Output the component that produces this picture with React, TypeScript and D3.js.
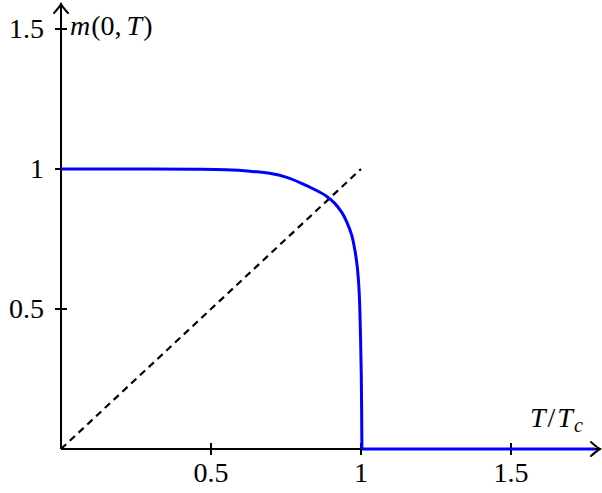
import React from "react";
import * as d3 from "d3";

// Blue curve m(0,T)
const tValues = [0, 0.3, 0.45, 0.55, 0.63, 0.7, 0.75, 0.802, 0.847, 0.886, 0.911, 0.936, 0.952, 0.969, 0.98, 0.988, 0.994, 0.998, 1.001, 1.003];
const mValues = [1, 1, 0.999, 0.997, 0.992, 0.984, 0.971, 0.949, 0.926, 0.902, 0.879, 0.845, 0.812, 0.764, 0.708, 0.646, 0.558, 0.42, 0.26, 0];
// Zero part above Tc
const tailT = [1.003, 1.78];
const tailM = [0, 0];
// Dashed diagonal m = T
const diagT = [0, 1];
const diagM = [0, 1];

const xTicks = [0.5, 1, 1.5];
const xTickLabels = ["0.5", "1", "1.5"];
const yTicks = [0.5, 1, 1.5];
const yTickLabels = ["0.5", "1", "1.5"];

const W = 602;
const H = 493;

export default function App() {
  const x = d3.scaleLinear().domain([0, 1]).range([61, 361]);
  const y = d3.scaleLinear().domain([0, 1]).range([449, 169]);

  const line = d3
    .line<[number, number]>()
    .x((d) => x(d[0]))
    .y((d) => y(d[1]))
    .curve(d3.curveCatmullRom.alpha(0.5));
  const straight = d3
    .line<[number, number]>()
    .x((d) => x(d[0]))
    .y((d) => y(d[1]));

  const curvePts = tValues.map((t, i) => [t, mValues[i]] as [number, number]);
  const tailPts = tailT.map((t, i) => [t, tailM[i]] as [number, number]);
  const diagPts = diagT.map((t, i) => [t, diagM[i]] as [number, number]);

  const x0 = x(0);
  const y0 = y(0);
  const xEnd = x(1.8);
  const yEnd = y(1.593);

  const font = "Liberation Serif";
  const fs = 28;

  const arrowRight = (tx: number, ty: number) =>
    `M${tx - 9},${ty - 7} Q${tx - 3},${ty - 1.5} ${tx},${ty} Q${tx - 3},${ty + 1.5} ${tx - 9},${ty + 7}`;
  const arrowUp = (tx: number, ty: number) =>
    `M${tx - 7},${ty + 9} Q${tx - 1.5},${ty + 3} ${tx},${ty} Q${tx + 1.5},${ty + 3} ${tx + 7},${ty + 9}`;

  return (
    <svg
      width={W}
      height={H}
      style={{ position: "absolute", left: 0, top: 0, background: "#fff" }}
    >
      <rect x={0} y={0} width={W} height={H} fill="#fff" />
      {/* axes */}
      <line x1={x0} y1={y0} x2={xEnd - 1} y2={y0} stroke="#000" strokeWidth={2} />
      <line x1={x0} y1={y0} x2={x0} y2={yEnd + 1} stroke="#000" strokeWidth={2} />
      {/* ticks */}
      {xTicks.map((t, i) => (
        <g key={"xt" + i}>
          <line x1={x(t)} x2={x(t)} y1={y0 - 6} y2={y0 + 6} stroke="#000" strokeWidth={2} />
          <text
            x={x(t)}
            y={y0 + 33}
            textAnchor="middle"
            fontFamily={font}
            fontSize={fs}
            fill="#000"
          >
            {xTickLabels[i]}
          </text>
        </g>
      ))}
      {yTicks.map((t, i) => (
        <g key={"yt" + i}>
          <line x1={x0 - 6} x2={x0 + 6} y1={y(t)} y2={y(t)} stroke="#000" strokeWidth={2} />
          <text
            x={44}
            y={y(t) + 9}
            textAnchor="end"
            fontFamily={font}
            fontSize={fs}
            fill="#000"
          >
            {yTickLabels[i]}
          </text>
        </g>
      ))}
      {/* dashed diagonal */}
      <path
        d={straight(diagPts) || ""}
        fill="none"
        stroke="#000"
        strokeWidth={2.2}
        strokeDasharray="7,5"
      />
      {/* blue curve */}
      <path d={line(curvePts) || ""} fill="none" stroke="#0000ff" strokeWidth={3} />
      <path d={straight(tailPts) || ""} fill="none" stroke="#0000ff" strokeWidth={3} />
      {/* arrowheads */}
      <path d={arrowRight(xEnd - 1, y0)} fill="none" stroke="#000" strokeWidth={2} strokeLinecap="round" />
      <path d={arrowUp(x0, yEnd + 1)} fill="none" stroke="#000" strokeWidth={2} strokeLinecap="round" />
      {/* axis labels */}
      <text x={70} y={35} fontFamily={font} fontSize={fs} fill="#000">
        <tspan fontStyle="italic">m</tspan>
        <tspan dx={1}>(0,</tspan>
        <tspan fontStyle="italic" dx={5}>T</tspan>
        <tspan dx={1}>)</tspan>
      </text>
      <text x={530} y={427} fontFamily={font} fontSize={fs} fill="#000">
        <tspan fontStyle="italic">T</tspan>
        <tspan dx={2}>/</tspan>
        <tspan fontStyle="italic" dx={2}>T</tspan>
        <tspan fontStyle="italic" fontSize={20} dy={5} dx={1}>c</tspan>
      </text>
    </svg>
  );
}
